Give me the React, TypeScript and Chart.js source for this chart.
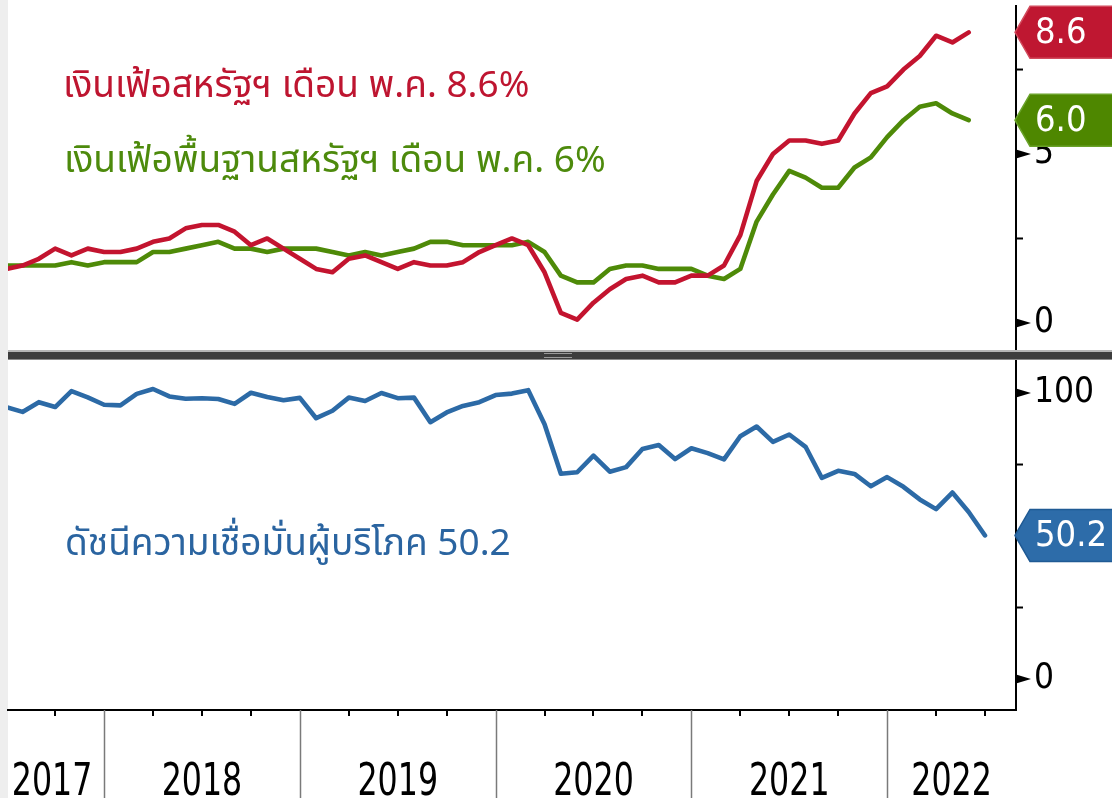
import React, { useEffect, useRef } from "react";
import { Chart, registerables } from "chart.js";

Chart.register(...registerables);

// ---------- data (monthly, first observation = June 2017) ----------
const FIRST_YEAR = 2017;
const FIRST_MONTH = 6;

// US CPI YoY %, Jun 2017 .. May 2022
const cpiHeadline = [
  1.6, 1.7, 1.9, 2.2, 2.0, 2.2, 2.1,
  2.1, 2.2, 2.4, 2.5, 2.8, 2.9, 2.9, 2.7, 2.3, 2.5, 2.2, 1.9,
  1.6, 1.5, 1.9, 2.0, 1.8, 1.6, 1.8, 1.7, 1.7, 1.8, 2.1, 2.3,
  2.5, 2.3, 1.5, 0.3, 0.1, 0.6, 1.0, 1.3, 1.4, 1.2, 1.2, 1.4,
  1.4, 1.7, 2.6, 4.2, 5.0, 5.4, 5.4, 5.3, 5.4, 6.2, 6.8, 7.0,
  7.5, 7.9, 8.5, 8.3, 8.6,
];

// US core CPI YoY %, Jun 2017 .. May 2022
const cpiCore = [
  1.7, 1.7, 1.7, 1.7, 1.8, 1.7, 1.8,
  1.8, 1.8, 2.1, 2.1, 2.2, 2.3, 2.4, 2.2, 2.2, 2.1, 2.2, 2.2,
  2.2, 2.1, 2.0, 2.1, 2.0, 2.1, 2.2, 2.4, 2.4, 2.3, 2.3, 2.3,
  2.3, 2.4, 2.1, 1.4, 1.2, 1.2, 1.6, 1.7, 1.7, 1.6, 1.6, 1.6,
  1.4, 1.3, 1.6, 3.0, 3.8, 4.5, 4.3, 4.0, 4.0, 4.6, 4.9, 5.5,
  6.0, 6.4, 6.5, 6.2, 6.0,
];

// Consumer sentiment index, Jun 2017 .. Jun 2022
const sentiment = [
  95.1, 93.4, 96.8, 95.1, 100.7, 98.5, 95.9,
  95.7, 99.7, 101.4, 98.8, 98.0, 98.2, 97.9, 96.2, 100.1, 98.6, 97.5, 98.3,
  91.2, 93.8, 98.4, 97.2, 100.0, 98.2, 98.4, 89.8, 93.2, 95.5, 96.8, 99.3,
  99.8, 101.0, 89.1, 71.8, 72.3, 78.1, 72.5, 74.1, 80.4, 81.8, 76.9, 80.7,
  79.0, 76.8, 84.9, 88.3, 82.9, 85.5, 81.2, 70.3, 72.8, 71.7, 67.4, 70.6,
  67.2, 62.8, 59.4, 65.2, 58.4, 50.2,
];

const yearLabels = ["2017", "2018", "2019", "2020", "2021", "2022"];

const textCpi = "เงินเฟ้อสหรัฐฯ เดือน พ.ค. 8.6%";
const textCore = "เงินเฟ้อพื้นฐานสหรัฐฯ เดือน พ.ค. 6%";
const textSentiment = "ดัชนีความเชื่อมั่นผู้บริโภค 50.2";

// ---------- styling ----------
const RED = "#C3142F";
const GREEN = "#4E8A08";
const BLUE = "#2C6AA6";
const RED_TAG = "#BF1731";
const GREEN_TAG = "#4E8700";
const BLUE_TAG = "#2D6CA9";

const AXIS_FONT = '"DejaVu Sans Condensed", "DejaVu Sans", sans-serif';
const THAI_FONT = '"Noto Sans Thai", "Noto Sans Thai UI", "Noto Sans", sans-serif';

const X_MIN = 6.11;
const X_MAX = 67.9;

// observation i plotted at the end of its month (months counted from Jan 2017)
const monthEndX = (i: number) => (FIRST_YEAR - 2017) * 12 + (FIRST_MONTH - 1) + i + 1;
const toPoints = (arr: number[]) => arr.map((v, i) => ({ x: monthEndX(i), y: v }));

// ---------- plugins ----------
const rightAxisMarks = {
  id: "rightAxisMarks",
  afterDraw(chart: any, _a: any, opts: any) {
    const s = chart.scales.y;
    const ctx = chart.ctx;
    const x0 = chart.chartArea.right;
    ctx.save();
    ctx.fillStyle = "#000";
    ctx.strokeStyle = "#000";
    ctx.lineWidth = 2;
    s.ticks.forEach((t: any) => {
      const y = s.getPixelForValue(t.value);
      if (Math.abs(t.value % opts.major) < 1e-9) {
        ctx.beginPath();
        ctx.moveTo(x0, y - 4.5);
        ctx.lineTo(x0 + 15, y);
        ctx.lineTo(x0, y + 4.5);
        ctx.closePath();
        ctx.fill();
      } else {
        ctx.beginPath();
        ctx.moveTo(x0, y);
        ctx.lineTo(x0 + 7, y);
        ctx.stroke();
      }
    });
    ctx.restore();
  },
};

const valueTags = {
  id: "valueTags",
  afterDraw(chart: any, _a: any, opts: any) {
    const ctx = chart.ctx;
    const x0 = chart.chartArea.right;
    const W = chart.width;
    chart.data.datasets.forEach((ds: any, i: number) => {
      const tag = opts.tags && opts.tags[i];
      if (!tag) return;
      const last = ds.data[ds.data.length - 1];
      const y = chart.scales.y.getPixelForValue(last.y);
      const h = 26;
      const slope = 15;
      ctx.save();
      ctx.beginPath();
      ctx.moveTo(x0 - 1, y);
      ctx.lineTo(x0 - 1 + slope, y - h);
      ctx.lineTo(W + 2, y - h);
      ctx.lineTo(W + 2, y + h);
      ctx.lineTo(x0 - 1 + slope, y + h);
      ctx.closePath();
      ctx.fillStyle = tag.color;
      ctx.fill();
      ctx.strokeStyle = tag.border;
      ctx.lineWidth = 1.5;
      ctx.stroke();
      ctx.fillStyle = "#fff";
      ctx.font = `36px ${AXIS_FONT}`;
      ctx.textBaseline = "middle";
      ctx.textAlign = "left";
      ctx.fillText(last.y.toFixed(1), x0 + 19, y + 1);
      ctx.restore();
    });
  },
};

const textNotes = {
  id: "textNotes",
  afterDatasetsDraw(chart: any, _a: any, opts: any) {
    const ctx = chart.ctx;
    ctx.save();
    (opts.items || []).forEach((it: any) => {
      ctx.font = `${it.size}px ${THAI_FONT}`;
      ctx.fillStyle = it.color;
      ctx.textAlign = "left";
      ctx.textBaseline = "alphabetic";
      ctx.fillText(it.text, it.x, it.y);
    });
    ctx.restore();
  },
};

const yearAxis = {
  id: "yearAxis",
  afterDraw(chart: any) {
    const ctx = chart.ctx;
    const xs = chart.scales.x;
    const area = chart.chartArea;
    const H = chart.height;
    ctx.save();
    // year separators
    ctx.strokeStyle = "#7a7a7a";
    ctx.lineWidth = 1.5;
    for (let k = 1; k < yearLabels.length; k++) {
      const px = Math.round(xs.getPixelForValue(k * 12)) + 0.5;
      ctx.beginPath();
      ctx.moveTo(px, area.bottom);
      ctx.lineTo(px, H);
      ctx.stroke();
    }
    // year labels
    ctx.fillStyle = "#000";
    ctx.font = `44px "DejaVu Sans", sans-serif`;
    ctx.textAlign = "center";
    ctx.textBaseline = "alphabetic";
    yearLabels.forEach((lab, k) => {
      const l = Math.max(0, xs.getPixelForValue(k * 12));
      const r = Math.min(area.right, xs.getPixelForValue((k + 1) * 12));
      const c = (l + r) / 2;
      ctx.save();
      ctx.translate(c, H - 3);
      ctx.scale(0.72, 1);
      ctx.fillText(lab, 0, 0);
      ctx.restore();
    });
    ctx.restore();
  },
};

const yAxisCommon = (min: number, max: number, step: number, labelEvery: number) => ({
  position: "right" as const,
  min,
  max,
  afterFit: (s: any) => {
    s.width = 96;
    s.paddingTop = 0;
    s.paddingBottom = 0;
  },
  border: { display: true, color: "#000", width: 2 },
  grid: { display: false, drawTicks: false },
  ticks: {
    stepSize: step,
    includeBounds: false,
    padding: 18,
    color: "#000",
    font: { family: AXIS_FONT, size: 35 },
    callback: (v: any) => (Math.abs(Number(v) % labelEvery) < 1e-9 ? String(v) : ""),
  },
});

const lineStyle = {
  borderWidth: 4.6,
  pointRadius: 0,
  tension: 0,
  clip: 0,
  borderJoinStyle: "round",
  borderCapStyle: "round",
};

export default function App() {
  const topRef = useRef<HTMLCanvasElement>(null);
  const botRef = useRef<HTMLCanvasElement>(null);

  useEffect(() => {
    const top = new Chart(topRef.current as HTMLCanvasElement, {
      type: "line",
      data: {
        datasets: [
          { data: toPoints(cpiHeadline), borderColor: RED, ...lineStyle },
          { data: toPoints(cpiCore), borderColor: GREEN, ...lineStyle },
        ],
      } as any,
      options: {
        animation: false,
        responsive: false,
        maintainAspectRatio: false,
        layout: { padding: { left: 8, top: 6, right: 0, bottom: 0 } },
        plugins: {
          legend: { display: false },
          tooltip: { enabled: false },
          rightAxisMarks: { major: 5 },
          valueTags: {
            tags: [
              { color: RED_TAG, border: "#d24a5c" },
              { color: GREEN_TAG, border: "#6aa22a" },
            ],
          },
          textNotes: {
            items: [
              { text: textCpi, color: "#BE1530", x: 63, y: 97, size: 37 },
              { text: textCore, color: "#4D8A0C", x: 64, y: 172, size: 37 },
            ],
          },
        } as any,
        scales: {
          x: { type: "linear", min: X_MIN, max: X_MAX, display: false },
          y: yAxisCommon(-0.8, 9.38, 2.5, 5) as any,
        },
      },
      plugins: [textNotes, rightAxisMarks, valueTags],
    });

    const bot = new Chart(botRef.current as HTMLCanvasElement, {
      type: "line",
      data: {
        datasets: [{ data: toPoints(sentiment), borderColor: BLUE, ...lineStyle }],
      } as any,
      options: {
        animation: false,
        responsive: false,
        maintainAspectRatio: false,
        layout: { padding: { left: 8, top: 0, right: 0, bottom: 0 } },
        plugins: {
          legend: { display: false },
          tooltip: { enabled: false },
          rightAxisMarks: { major: 50 },
          valueTags: { tags: [{ color: BLUE_TAG, border: "#1f5a94" }] },
          textNotes: {
            items: [{ text: textSentiment, color: "#2A64A0", x: 65, y: 196, size: 37 }],
          },
        } as any,
        scales: {
          x: {
            type: "linear",
            position: "bottom",
            min: X_MIN,
            max: X_MAX,
            afterFit: (s: any) => {
              s.height = 88;
              s.paddingLeft = 0;
              s.paddingRight = 0;
            },
            border: { display: true, color: "#000", width: 2 },
            grid: {
              drawOnChartArea: false,
              drawTicks: true,
              tickLength: 6,
              lineWidth: 2,
              color: (c: any) =>
                c.tick && Math.abs(c.tick.value % 12) < 1e-9 ? "rgba(0,0,0,0)" : "#000",
            },
            ticks: { stepSize: 3, includeBounds: false, autoSkip: false, display: false },
          } as any,
          y: yAxisCommon(-10.84, 111.9, 25, 50) as any,
        },
      },
      plugins: [textNotes, rightAxisMarks, valueTags, yearAxis],
    });

    return () => {
      top.destroy();
      bot.destroy();
    };
  }, []);

  return (
    <div
      style={{
        position: "fixed",
        left: 0,
        top: 0,
        width: 1112,
        height: 798,
        background: "#ffffff",
        overflow: "hidden",
      }}
    >
      <div style={{ position: "absolute", left: 0, top: 0, width: 8, height: 798, background: "#eeeeee" }} />
      <canvas
        ref={topRef}
        width={1112}
        height={350}
        style={{ position: "absolute", left: 0, top: 0, width: 1112, height: 350 }}
      />
      <canvas
        ref={botRef}
        width={1112}
        height={439}
        style={{ position: "absolute", left: 0, top: 359, width: 1112, height: 439 }}
      />
      <div
        style={{
          position: "absolute",
          left: 8,
          top: 350,
          width: 1104,
          height: 10,
          boxSizing: "border-box",
          background: "#3d3d3d",
          borderTop: "2px solid #b5b5b5",
          borderBottom: "1px solid #8a8a8a",
        }}
      >
        <div
          style={{
            position: "absolute",
            left: 536,
            top: 1,
            width: 28,
            height: 5,
            borderTop: "1px solid #9a9a9a",
            borderBottom: "1px solid #9a9a9a",
            boxSizing: "border-box",
          }}
        />
      </div>
    </div>
  );
}
